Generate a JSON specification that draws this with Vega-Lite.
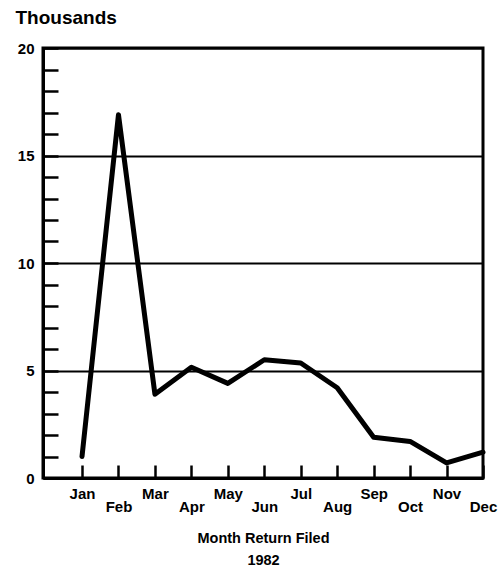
{
  "$schema": "https://vega.github.io/schema/vega-lite/v6.json",
  "width": 440,
  "height": 430,
  "autosize": "none",
  "padding": {"left": 43, "top": 48, "right": 17, "bottom": 91},
  "background": "white",
  "config": {
    "view": {"stroke": "black", "strokeWidth": 3},
    "font": "Liberation Sans"
  },
  "data": {
    "values": [
      {"month": 1, "name": "Jan", "value": 1.0},
      {"month": 2, "name": "Feb", "value": 16.9},
      {"month": 3, "name": "Mar", "value": 3.9},
      {"month": 4, "name": "Apr", "value": 5.15},
      {"month": 5, "name": "May", "value": 4.4},
      {"month": 6, "name": "Jun", "value": 5.5},
      {"month": 7, "name": "Jul", "value": 5.35},
      {"month": 8, "name": "Aug", "value": 4.2},
      {"month": 9, "name": "Sep", "value": 1.9},
      {"month": 10, "name": "Oct", "value": 1.7},
      {"month": 11, "name": "Nov", "value": 0.7},
      {"month": 12, "name": "Dec", "value": 1.2}
    ]
  },
  "mark": {"type": "line", "color": "black", "strokeWidth": 5, "strokeJoin": "round", "strokeCap": "round"},
  "encoding": {
    "x": {
      "field": "month",
      "type": "quantitative",
      "scale": {"domain": [-0.07, 12], "nice": false, "zero": false},
      "axis": {
        "values": [1, 2, 3, 4, 5, 6, 7, 8, 9, 10, 11, 12],
        "labelExpr": "['Jan','Feb','Mar','Apr','May','Jun','Jul','Aug','Sep','Oct','Nov','Dec'][datum.value - 1]",
        "grid": false,
        "domain": true,
        "domainColor": "black",
        "domainWidth": 3,
        "tickColor": "black",
        "tickWidth": 2.5,
        "tickSize": -13,
        "labelPadding": {"expr": "datum.value % 2 === 0 ? 34 : 21"},
        "labelFontSize": 15,
        "labelFontWeight": "bold",
        "labelColor": "black",
        "labelFont": "Liberation Sans",
        "labelBaseline": "top",
        "labelFlush": false,
        "labelOverlap": false,
        "title": ["Month Return Filed", "1982"],
        "titleFontSize": 14.5,
        "titleFontWeight": "bold",
        "titleFont": "Liberation Sans",
        "titleColor": "black",
        "titleBaseline": "top",
        "titleY": 53,
        "titleLineHeight": 22
      }
    },
    "y": {
      "field": "value",
      "type": "quantitative",
      "scale": {"domain": [0, 20], "nice": false},
      "axis": {
        "values": [0, 1, 2, 3, 4, 5, 6, 7, 8, 9, 10, 11, 12, 13, 14, 15, 16, 17, 18, 19, 20],
        "labelExpr": "datum.value % 5 === 0 ? datum.label : ''",
        "grid": true,
        "gridColor": {"expr": "datum.value % 5 === 0 ? 'black' : null"},
        "gridOpacity": {"expr": "datum.value % 5 === 0 ? 1 : 0"},
        "gridWidth": 2,
        "domain": true,
        "domainColor": "black",
        "domainWidth": 3,
        "tickColor": "black",
        "tickWidth": 2.5,
        "tickSize": -15,
        "labelPadding": 24,
        "labelFontSize": 15,
        "labelFontWeight": "bold",
        "labelColor": "black",
        "labelFont": "Liberation Sans",
        "labelFlush": false,
        "labelOverlap": false,
        "title": "Thousands",
        "titleAngle": 0,
        "titleAlign": "left",
        "titleBaseline": "alphabetic",
        "titleX": -28,
        "titleY": -25,
        "titleFontSize": 19,
        "titleFontWeight": "bold",
        "titleFont": "Liberation Sans",
        "titleColor": "black"
      }
    }
  }
}
